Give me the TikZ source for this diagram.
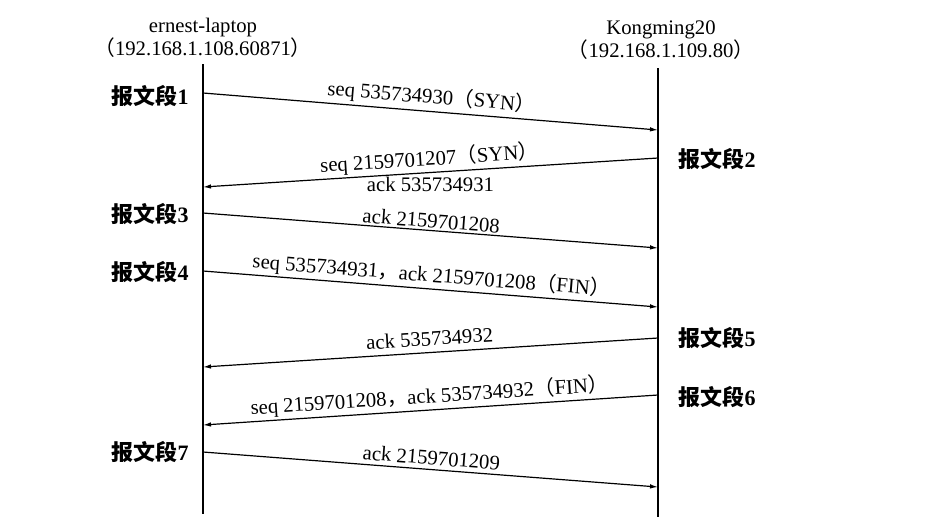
\documentclass[tikz,border=0pt]{standalone}
\usepackage{fontspec}
\setmainfont{Liberation Serif}
\newfontfamily\cjk{Noto Sans CJK SC}
\usetikzlibrary{arrows.meta}
\newcommand{\seg}[1]{{\cjk\bfseries 报文段}{\bfseries #1}}
\newcommand{\lp}{{\cjk （}}
\newcommand{\rp}{{\cjk ）}}
\newcommand{\cm}{{\cjk ，}}
\tikzset{
  life/.style={line width=2.6pt},
  msg/.style={line width=1.2pt,-{Latex[length=8pt,width=4.5pt]}},
  lbl/.style={font=\fontsize{20.7}{24}\selectfont,inner sep=1pt},
  seglbl/.style={font=\fontsize{22}{24}\selectfont,inner sep=1pt},
  host/.style={font=\fontsize{20.7}{22}\selectfont,align=center,inner sep=0pt}
}
\begin{document}
\begin{tikzpicture}[x=1pt,y=-1pt]
\useasboundingbox (0,0) rectangle (933,528);
% hosts
\node[host] (hA) at (203,38) {ernest-laptop\\\lp192.168.1.108.60871\rp};
\node[host] (hB) at (661,40) {Kongming20\\\lp192.168.1.109.80\rp};
% lifelines
\coordinate (Atop) at (203,64);
\coordinate (Abot) at (203,514);
\coordinate (Btop) at (658,68);
\coordinate (Bbot) at (658,517);
\draw[life] (Atop) -- (Abot);
\draw[life] (Btop) -- (Bbot);
% message endpoints
\coordinate (a1) at (203,93);  \coordinate (b1) at (658,130);
\coordinate (b2) at (658,158); \coordinate (a2) at (203,187);
\coordinate (a3) at (203,213); \coordinate (b3) at (658,248);
\coordinate (a4) at (203,271); \coordinate (b4) at (658,307);
\coordinate (b5) at (658,338); \coordinate (a5) at (203,367);
\coordinate (b6) at (658,395); \coordinate (a6) at (203,425);
\coordinate (a7) at (203,452); \coordinate (b7) at (658,487);
% messages
\draw[msg] (a1) -- node[lbl,sloped,above=2pt] (m1) {seq 535734930\lp SYN\rp} (b1);
\draw[msg] (b2) -- node[lbl,sloped,above=1pt] (m2) {seq 2159701207\lp SYN\rp}
                   node[lbl,below=3pt] (m2b) {ack 535734931} (a2);
\draw[msg] (a3) -- node[lbl,sloped,above=1pt] (m3) {ack 2159701208} (b3);
\draw[msg] (a4) -- node[lbl,sloped,above=1pt] (m4) {seq 535734931\cm ack 2159701208\lp FIN\rp} (b4);
\draw[msg] (b5) -- node[lbl,sloped,above=5pt] (m5) {ack 535734932} (a5);
\draw[msg] (b6) -- node[lbl,sloped,above=1pt] (m6) {seq 2159701208\cm ack 535734932\lp FIN\rp} (a6);
\draw[msg] (a7) -- node[lbl,sloped,above=3pt] (m7) {ack 2159701209} (b7);
% segment labels
\node[seglbl] (s1) at (150,96) {\seg{1}};
\node[seglbl] (s2) at (717,159) {\seg{2}};
\node[seglbl] (s3) at (150,214) {\seg{3}};
\node[seglbl] (s4) at (150,272) {\seg{4}};
\node[seglbl] (s5) at (717,338) {\seg{5}};
\node[seglbl] (s6) at (717,397) {\seg{6}};
\node[seglbl] (s7) at (150,452) {\seg{7}};
\end{tikzpicture}
\end{document}
